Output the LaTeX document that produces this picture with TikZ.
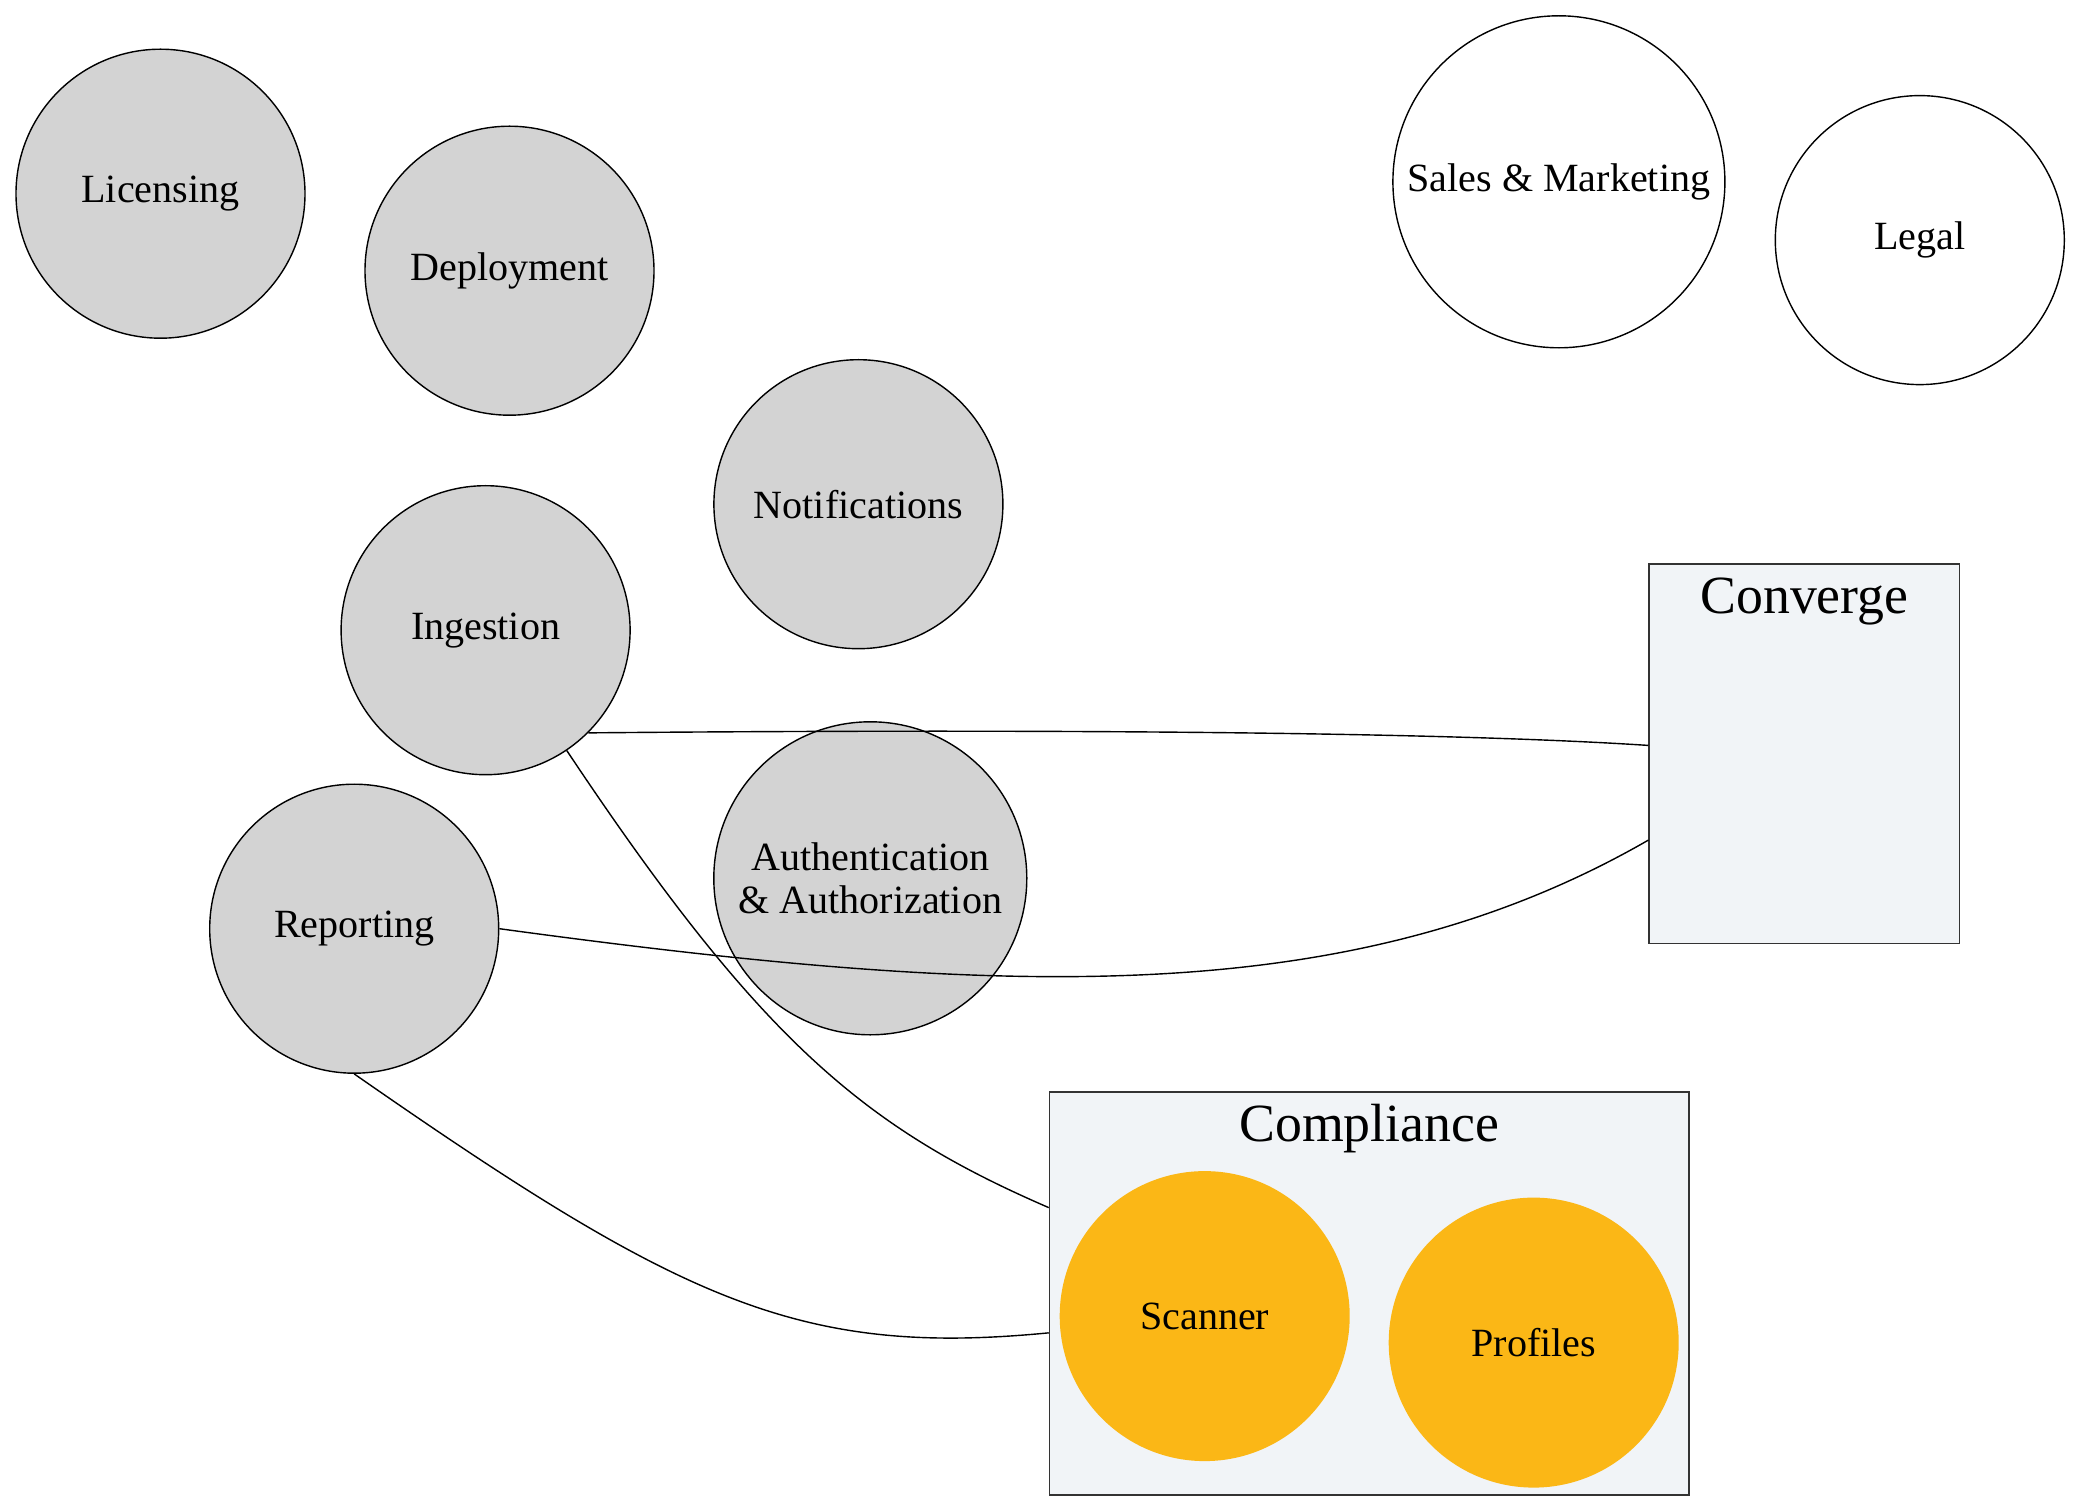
\documentclass[tikz,border=0pt]{standalone}
\usepackage{fontspec}
\setmainfont{Liberation Serif}
\definecolor{nodegray}{HTML}{D3D3D3}
\definecolor{teamorange}{HTML}{FBB716}
\definecolor{boxblue}{HTML}{F1F4F7}
\begin{document}
\begin{tikzpicture}[
  team/.style={circle,draw=black,fill=nodegray,minimum size=2.89cm,inner sep=0pt,font=\fontsize{11.4}{12.5}\selectfont,align=center},
  outside/.style={team,fill=white},
  member/.style={circle,fill=teamorange,minimum size=2.9cm,inner sep=0pt,font=\fontsize{11.4}{12.5}\selectfont},
  group/.style={draw=black!80,fill=boxblue,inner sep=0pt},
  grouptitle/.style={anchor=base,font=\fontsize{15.3}{18}\selectfont},
  link/.style={draw=black,thin}
]
 \useasboundingbox (0,0) rectangle (20.75,14.97);
 \node[team] (lic) at (1.605,13.033) {Licensing};
 \node[team] (dep) at (5.095,12.263) {Deployment};
 \node[team] (noti) at (8.584,9.928) {Notifications};
 \node[team] (ing) at (4.856,8.668) {Ingestion};
 \node[team] (rep) at (3.542,5.683) {Reporting};
 \node[team,minimum size=3.13cm] (auth) at (8.703,6.187) {Authentication\\\& Authorization};
 \node[outside,minimum size=3.32cm] (sales) at (15.589,13.152) {Sales \& Marketing};
 \node[outside] (legal) at (19.198,12.569) {Legal};
 \node[group,minimum width=3.105cm,minimum height=3.794cm] (conv) at (18.044,7.434) {};
 \node[grouptitle] (convtitle) at ([yshift=-0.5cm]conv.north) {Converge};
 \node[group,minimum width=6.395cm,minimum height=4.033cm] (comp) at (13.692,2.035) {};
 \node[grouptitle] (comptitle) at ([yshift=-0.5cm]comp.north) {Compliance};
 \node[member] (scan) at (12.047,1.809) {Scanner};
 \node[member] (prof) at (15.337,1.544) {Profiles};
 \draw[link] (ing.-45) .. controls (9,7.67) and (14,7.68) .. (conv.177);
 \draw[link] (rep.east) .. controls (10,5.0) and (13.5,4.85) .. (conv.209);
 \draw[link] (ing.-56) .. controls (7.61,4.55) and (8.65,3.69) .. (comp.165);
 \draw[link] (rep.south) .. controls (6.82,1.95) and (8.0,1.40) .. (comp.187);
\end{tikzpicture}
\end{document}
